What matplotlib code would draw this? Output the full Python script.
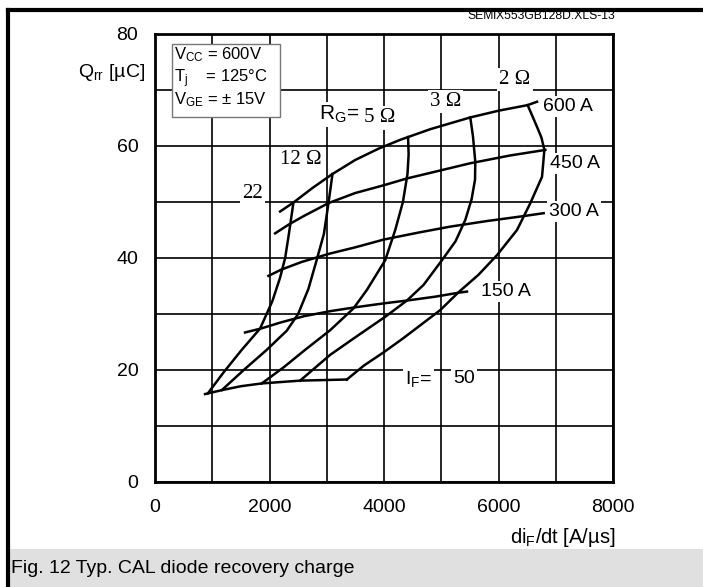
import matplotlib
matplotlib.use("Agg")
import matplotlib.pyplot as plt
from matplotlib.patches import Rectangle
from matplotlib.lines import Line2D

plt.rcParams["font.family"] = ["Liberation Sans", "DejaVu Sans"]
plt.rcParams["mathtext.fontset"] = "custom"
plt.rcParams["mathtext.rm"] = "Liberation Sans"
plt.rcParams["mathtext.it"] = "Liberation Sans:italic"

# Qrr vs diF/dt, constant forward current lines (A)
if_50_x = [874, 1166, 1500, 1865, 2535, 3351]
if_50_y = [15.7, 16.4, 17.1, 17.6, 18.1, 18.3]
if_150_x = [1573, 1850, 2200, 2600, 3059, 3500, 4000, 4400, 4900, 5303, 5449]
if_150_y = [26.7, 27.4, 28.5, 29.6, 30.5, 31.2, 31.9, 32.4, 33.1, 33.8, 34.0]
if_300_x = [1981, 2200, 2564, 3059, 3497, 4000, 4633, 5157, 5800, 6381, 6789]
if_300_y = [36.8, 37.9, 39.3, 40.8, 41.9, 43.3, 44.6, 45.6, 46.6, 47.4, 48.0]
if_450_x = [2098, 2340, 2600, 3030, 3497, 4000, 4400, 4808, 5500, 6200, 6818]
if_450_y = [44.4, 46.0, 47.5, 49.8, 51.6, 53.0, 54.2, 55.2, 56.9, 58.3, 59.3]
if_600_x = [2185, 2418, 2750, 3100, 3497, 3900, 4283, 4808, 5507, 6000, 6509, 6673]
if_600_y = [48.3, 49.9, 52.5, 55.0, 57.5, 59.5, 61.1, 63.0, 65.1, 66.3, 67.3, 67.9]

# constant gate resistance lines (Ohm)
rg_22_x = [921, 1200, 1515, 1836, 2050, 2185, 2273, 2340, 2418]
rg_22_y = [15.8, 19.6, 23.6, 27.4, 32.3, 36.5, 40.0, 44.4, 49.9]
rg_12_x = [1166, 1550, 1952, 2300, 2500, 2680, 2820, 2950, 3030, 3100]
rg_12_y = [16.4, 20.0, 23.6, 27.0, 30.0, 34.5, 39.5, 44.3, 49.8, 55.0]
rg_5_x = [1865, 2250, 2622, 3059, 3467, 3701, 4021, 4196, 4330, 4410, 4430, 4420]
rg_5_y = [17.6, 20.5, 23.6, 27.1, 31.0, 34.3, 39.6, 45.0, 50.0, 55.0, 58.5, 61.6]
rg_3_x = [2535, 3059, 3550, 4021, 4400, 4691, 5012, 5250, 5420, 5530, 5590, 5594, 5554, 5507]
rg_3_y = [18.1, 22.7, 26.2, 29.5, 32.4, 35.2, 39.6, 43.0, 46.8, 50.5, 54.0, 57.2, 61.7, 65.1]
rg_2_x = [3351, 3650, 4000, 4340, 4983, 5303, 5650, 5973, 6323, 6556, 6760, 6801, 6750, 6673, 6509]
rg_2_y = [18.3, 20.8, 23.2, 25.7, 30.7, 33.9, 37.0, 40.5, 45.0, 49.8, 54.5, 59.3, 61.5, 63.4, 67.3]

if_lines = [(if_50_x, if_50_y), (if_150_x, if_150_y), (if_300_x, if_300_y),
            (if_450_x, if_450_y), (if_600_x, if_600_y)]
rg_lines = [(rg_22_x, rg_22_y), (rg_12_x, rg_12_y), (rg_5_x, rg_5_y),
            (rg_3_x, rg_3_y), (rg_2_x, rg_2_y)]

fig = plt.figure(figsize=(7.03, 5.87), dpi=100)

# page frame and caption band
fig.add_artist(Rectangle((0.011, 0.0), 0.989, 0.065, transform=fig.transFigure,
                         facecolor="#e0e0e0", edgecolor="none"))
fig.add_artist(Line2D([0.011, 0.011], [0.0, 0.983], transform=fig.transFigure,
                      color="black", lw=3))
fig.add_artist(Line2D([0.011, 1.0], [0.983, 0.983], transform=fig.transFigure,
                      color="black", lw=3))
fig.text(0.016, 0.032, "Fig. 12 Typ. CAL diode recovery charge", fontsize=14,
         va="center", ha="left")
fig.text(0.875, 0.972, "SEMiX553GB128D.XLS-13", fontsize=8.7, ha="right", va="center")

ax = fig.add_axes([0.2205, 0.1789, 0.6515, 0.7632])
ax.set_xlim(0, 8000)
ax.set_ylim(0, 80)
ax.set_xticks(range(0, 8001, 1000))
ax.set_yticks(range(0, 81, 10))
ax.set_xticklabels(["0", "", "2000", "", "4000", "", "6000", "", "8000"])
ax.set_yticklabels(["0", "", "20", "", "40", "", "60", "", "80"])
ax.tick_params(length=0, labelsize=14, pad=12)
ax.grid(True, color="black", lw=1.2)
for s in ax.spines.values():
    s.set_linewidth(2)

for x, y in if_lines + rg_lines:
    ax.plot(x, y, color="black", lw=1.8, zorder=5)

fig.text(0.207, 0.877, r"Q$_{\mathrm{rr}}$ [µC]", fontsize=14, ha="right", va="center")
fig.text(0.875, 0.085, r"di$_{\mathrm{F}}$/dt [A/µs]", fontsize=14.5, ha="right", va="center")

# operating conditions box
ax.add_patch(Rectangle((297, 65.2), 1888, 13.0, facecolor="white", edgecolor="#777777",
                       lw=1, zorder=6))
ax.text(340, 76.3, "V$_{\\mathrm{CC}}$ = 600V", fontsize=12, va="center", zorder=7)
ax.text(340, 72.1, "T$_{\\mathrm{j}}$    = 125°C", fontsize=12, va="center", zorder=7)
ax.text(340, 68.2, "V$_{\\mathrm{GE}}$ = ± 15V", fontsize=12, va="center", zorder=7)

wb = dict(facecolor="white", edgecolor="none", pad=1.5)
serif = ["Liberation Serif", "DejaVu Serif"]
ax.text(2870, 65.6, "R$_{\\mathrm{G}}$=", fontsize=15, ha="left", va="center", bbox=wb, zorder=4)
ax.text(3930, 65.0, "5 Ω", fontsize=15, family=serif, ha="center", va="center", bbox=wb, zorder=4)
ax.text(5070, 67.9, "3 Ω", fontsize=15, family=serif, ha="center", va="center", bbox=wb, zorder=4)
ax.text(6290, 71.8, "2 Ω", fontsize=15, family=serif, ha="center", va="center", bbox=wb, zorder=4)
ax.text(2540, 57.6, "12 Ω", fontsize=15, family=serif, ha="center", va="center", bbox=wb, zorder=4)
ax.text(1710, 51.6, "22", fontsize=15, family=serif, ha="center", va="center", bbox=wb, zorder=4)

ax.text(6780, 67.0, "600 A", fontsize=14, ha="left", va="center", bbox=wb, zorder=4)
ax.text(6900, 56.9, "450 A", fontsize=14, ha="left", va="center", bbox=wb, zorder=4)
ax.text(6880, 48.3, "300 A", fontsize=14, ha="left", va="center", bbox=wb, zorder=4)
ax.text(5700, 34.0, "150 A", fontsize=14, ha="left", va="center", bbox=wb, zorder=4)
ax.text(4370, 18.4, "I$_{\\mathrm{F}}$=", fontsize=14, ha="left", va="center", bbox=wb, zorder=4)
ax.text(5400, 18.4, "50", fontsize=14, ha="center", va="center", bbox=wb, zorder=4)

fig.savefig("out.png", dpi=100)
